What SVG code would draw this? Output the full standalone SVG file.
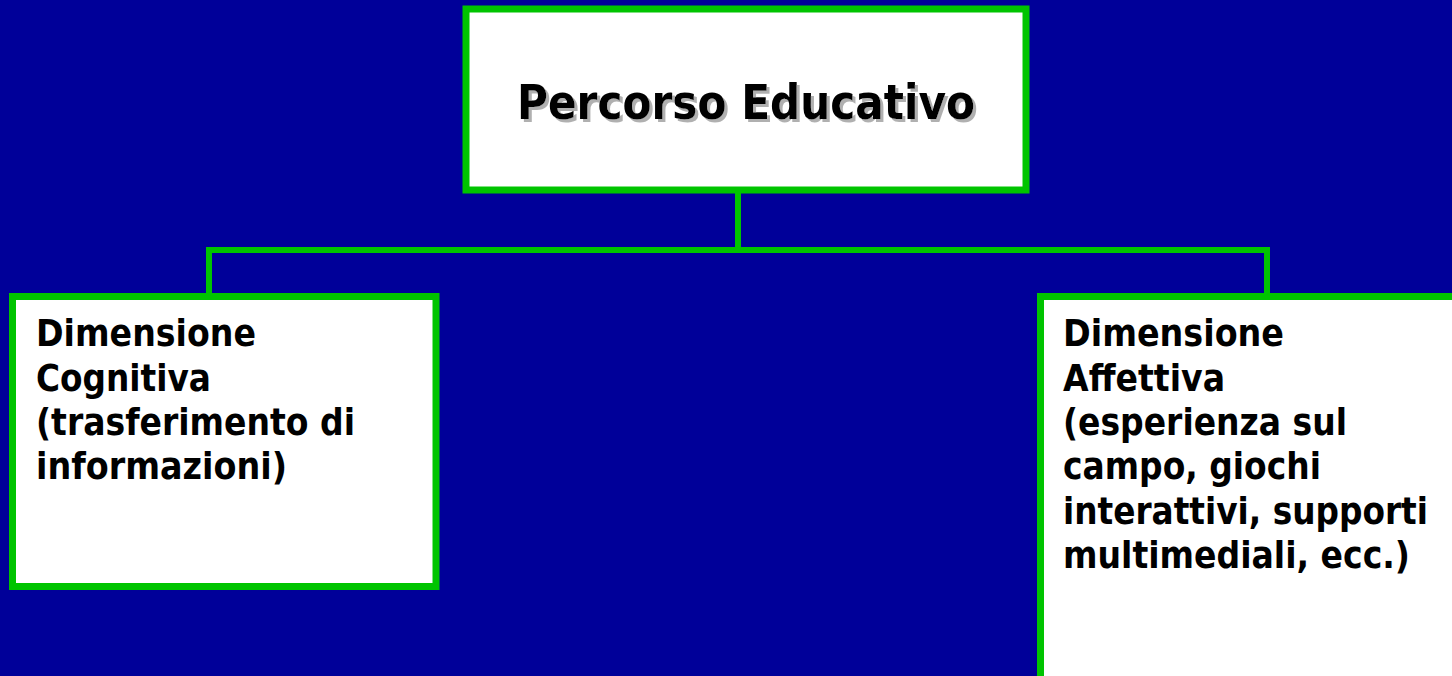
<svg xmlns="http://www.w3.org/2000/svg" width="1452" height="676" viewBox="0 0 1452 676">
<defs>
<filter id="shadow" x="-5%" y="-20%" width="110%" height="140%">
<feFlood flood-color="#b0b0b0"/>
<feComposite in2="SourceAlpha" operator="in"/>
<feOffset dx="2.5" dy="2.5" result="sh"/>
<feMerge><feMergeNode in="sh"/><feMergeNode in="SourceGraphic"/></feMerge>
</filter>
</defs>
<style>
.box{fill:#ffffff;stroke:#00C400;stroke-width:7}
.conn{stroke:#00C400;stroke-width:6;fill:none;stroke-linecap:square}
.t{font-family:"DejaVu Sans","Verdana",sans-serif;font-weight:bold;fill:#000000}
.body{font-size:38px}
.title{font-size:48px}
</style>
<rect x="0" y="0" width="1452" height="676" fill="#000099"/>
<g id="connectors">
<path class="conn" d="M738 192 V250"/>
<path class="conn" d="M209 250 H1267"/>
<path class="conn" d="M209 250 V294"/>
<path class="conn" d="M1267 250 V294"/>
</g>
<g id="node-percorso">
<rect class="box" x="466" y="9" width="560" height="181"/>
<text class="t title" x="517" y="119" textLength="458" lengthAdjust="spacingAndGlyphs" filter="url(#shadow)">Percorso Educativo</text>
</g>
<g id="node-cognitiva">
<rect class="box" x="12.5" y="296.5" width="423.5" height="290"/>
<text class="t body" x="36" y="346" textLength="220" lengthAdjust="spacingAndGlyphs">Dimensione</text>
<text class="t body" x="36" y="391" textLength="175" lengthAdjust="spacingAndGlyphs">Cognitiva</text>
<text class="t body" x="36" y="435" textLength="319" lengthAdjust="spacingAndGlyphs">(trasferimento di</text>
<text class="t body" x="36" y="479" textLength="251" lengthAdjust="spacingAndGlyphs">informazioni)</text>
</g>
<g id="node-affettiva">
<rect class="box" x="1040.5" y="296.5" width="430" height="400"/>
<text class="t body" x="1063" y="346" textLength="221" lengthAdjust="spacingAndGlyphs">Dimensione</text>
<text class="t body" x="1063" y="391" textLength="162" lengthAdjust="spacingAndGlyphs">Affettiva</text>
<text class="t body" x="1063" y="435" textLength="284" lengthAdjust="spacingAndGlyphs">(esperienza sul</text>
<text class="t body" x="1063" y="479" textLength="258" lengthAdjust="spacingAndGlyphs">campo, giochi</text>
<text class="t body" x="1063" y="524" textLength="365" lengthAdjust="spacingAndGlyphs">interattivi, supporti</text>
<text class="t body" x="1063" y="568" textLength="347" lengthAdjust="spacingAndGlyphs">multimediali, ecc.)</text>
</g>
</svg>
